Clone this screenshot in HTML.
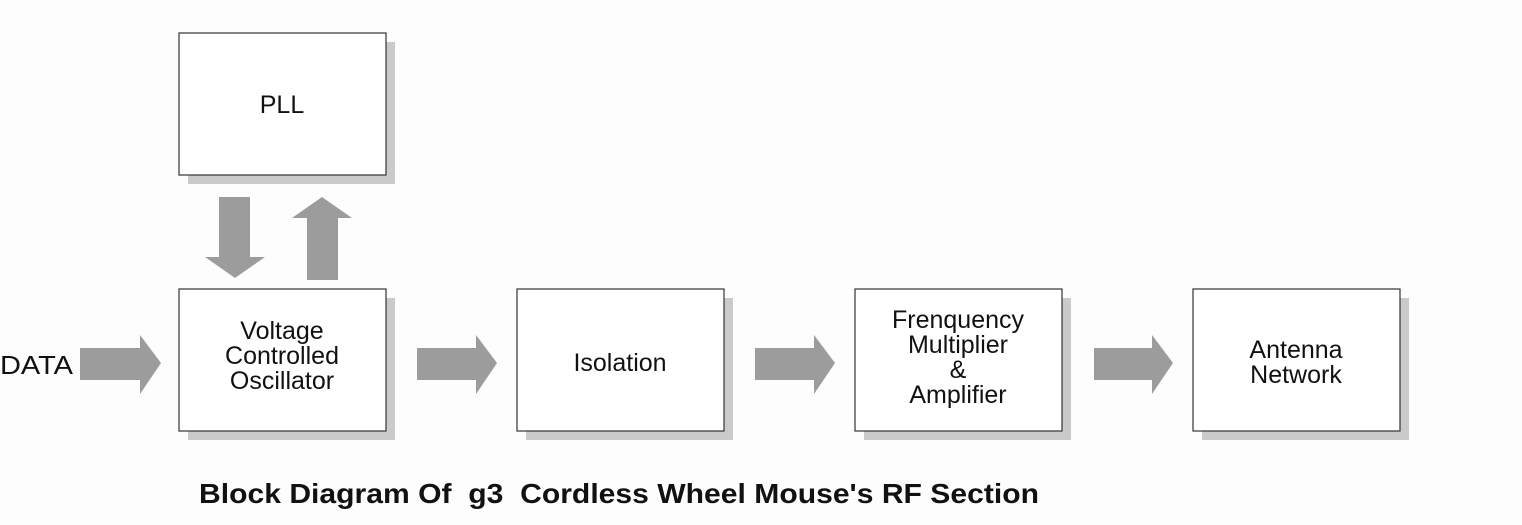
<!DOCTYPE html>
<html><head><meta charset="utf-8"><style>
html,body{margin:0;padding:0;background:#fff;}
svg{display:block}
text{font-family:"Liberation Sans",Arial,sans-serif;fill:#111}
</style></head><body>
<svg width="1522" height="525" viewBox="0 0 1522 525" xmlns="http://www.w3.org/2000/svg">
<rect width="1522" height="525" fill="#fdfdfd"/>
<g fill="#cacaca">
<rect x="188" y="42" width="207" height="142"/>
<rect x="188" y="298" width="207" height="142"/>
<rect x="526" y="298" width="207" height="142"/>
<rect x="864" y="298" width="207" height="142"/>
<rect x="1202" y="298" width="207" height="142"/>
</g>
<g fill="#fff" stroke="#333" stroke-width="1.2">
<rect x="179" y="33" width="207" height="142"/>
<rect x="179" y="289" width="207" height="142"/>
<rect x="517" y="289" width="207" height="142"/>
<rect x="855" y="289" width="207" height="142"/>
<rect x="1193" y="289" width="207" height="142"/>
</g>
<g fill="#9c9c9c">
<polygon points="219,197 250,197 250,257 265,257 235,278 205,257 219,257"/>
<polygon points="307,280 338,280 338,218 352,218 322,197 292,218 307,218"/>
<polygon points="80,348 140,348 140,335 161,363 140,394 140,380 80,380"/>
<polygon points="417,348 476,348 476,335 497,363 476,394 476,380 417,380"/>
<polygon points="755,348 814,348 814,335 835,363 814,394 814,380 755,380"/>
<polygon points="1094,348 1152,348 1152,335 1173,363 1152,394 1152,380 1094,380"/>
</g>
<g font-size="25" text-anchor="middle">
<text x="282" y="113">PLL</text>
<text x="282" y="339">Voltage</text>
<text x="282" y="364">Controlled</text>
<text x="282" y="389">Oscillator</text>
<text x="620" y="371">Isolation</text>
<text x="958" y="328">Frenquency</text>
<text x="958" y="353">Multiplier</text>
<text x="958" y="378">&amp;</text>
<text x="958" y="403">Amplifier</text>
<text x="1296" y="358">Antenna</text>
<text x="1296" y="383">Network</text>
</g>
<text x="0" y="374" font-size="26" textLength="73" lengthAdjust="spacingAndGlyphs">DATA</text>
<text x="199" y="503" font-size="28" font-weight="bold" xml:space="preserve" textLength="840" lengthAdjust="spacingAndGlyphs">Block Diagram Of  g3  Cordless Wheel Mouse's RF Section</text>
</svg>
</body></html>
